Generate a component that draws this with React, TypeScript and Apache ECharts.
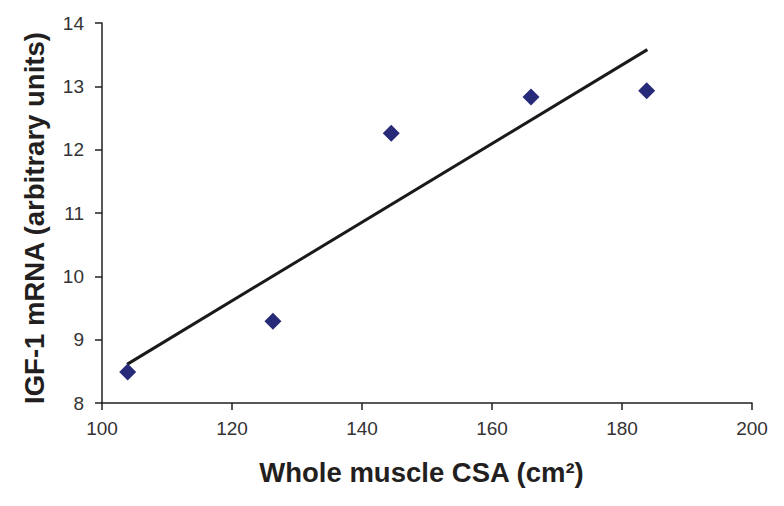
import React, { useEffect, useRef } from "react";
import * as echarts from "echarts";

const pointsX = [103.95, 126.3, 144.5, 166.0, 183.8];
const pointsY = [8.49, 9.29, 12.26, 12.83, 12.93];
const trendX = [103.85, 183.9];
const trendY = [8.61, 13.58];
const xTitle = "Whole muscle CSA (cm²)";
const yTitle = "IGF-1 mRNA (arbitrary units)";

export default function App() {
  const ref = useRef<HTMLDivElement>(null);
  useEffect(() => {
    if (!ref.current) return;
    const chart = echarts.init(ref.current, null, { renderer: "svg" });
    const font = "'Liberation Sans', Arial, sans-serif";
    chart.setOption({
      animation: false,
      backgroundColor: "#ffffff",
      grid: { left: 102, right: 32, top: 23, bottom: 103 },
      xAxis: {
        type: "value",
        min: 100,
        max: 200,
        interval: 20,
        name: xTitle,
        nameLocation: "middle",
        nameGap: 55,
        nameTextStyle: { fontFamily: font, fontSize: 27.5, fontWeight: "bold", color: "#231f20", padding: [0, 11, 0, 0] },
        axisLine: { show: true, lineStyle: { color: "#231f20", width: 1.5 } },
        axisTick: { show: true, length: 7, inside: false, lineStyle: { color: "#231f20", width: 1.5 } },
        axisLabel: { fontFamily: font, fontSize: 19, color: "#333333", margin: 16 },
        splitLine: { show: false },
      },
      yAxis: {
        type: "value",
        min: 8,
        max: 14,
        interval: 1,
        name: yTitle,
        nameLocation: "middle",
        nameGap: 54,
        nameRotate: 90,
        nameTextStyle: { fontFamily: font, fontSize: 27.5, fontWeight: "bold", color: "#231f20", padding: [0, 10, 0, 0] },
        axisLine: { show: true, lineStyle: { color: "#231f20", width: 1.5 } },
        axisTick: { show: true, length: 7, inside: false, lineStyle: { color: "#231f20", width: 1.5 } },
        axisLabel: { fontFamily: font, fontSize: 19, color: "#333333", margin: 18 },
        splitLine: { show: false },
      },
      series: [
        {
          type: "line",
          data: trendX.map((x, i) => [x, trendY[i]]),
          showSymbol: false,
          lineStyle: { color: "#1a1a1a", width: 3 },
          z: 2,
        },
        {
          type: "scatter",
          data: pointsX.map((x, i) => [x, pointsY[i]]),
          symbol: "diamond",
          symbolSize: [17, 17],
          itemStyle: { color: "#262a78", opacity: 1 },
          z: 3,
        },
      ],
    });
    return () => chart.dispose();
  }, []);
  return <div ref={ref} style={{ width: 784, height: 506, position: "absolute", left: 0, top: 0 }} />;
}
